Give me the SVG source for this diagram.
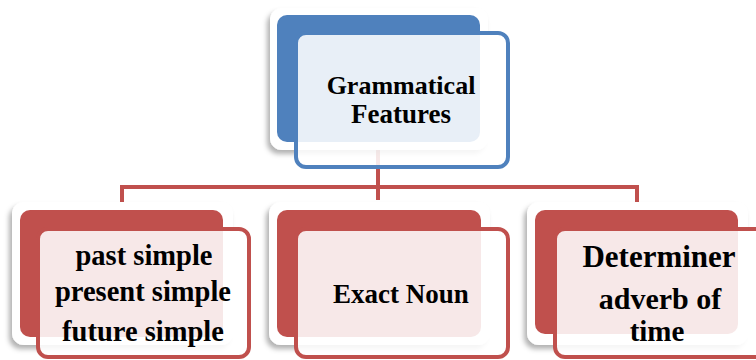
<svg xmlns="http://www.w3.org/2000/svg" width="756" height="360" viewBox="0 0 756 360">
<style>
.frame{fill:#ffffff;filter:url(#sh)}
.blue{fill:#4f81bd}
.red{fill:#c0504d}
.fb{fill:#ffffff;fill-opacity:0.87;stroke:#4f81bd;stroke-width:4}
.fr{fill:#ffffff;fill-opacity:0.87;stroke:#c0504d;stroke-width:4}
.t{font-family:"Liberation Serif","Times New Roman",serif;font-weight:bold;fill:#000;text-anchor:middle}
.conn{fill:none;stroke:#c0504d;stroke-width:4}
</style>
<defs>
<filter id="sh" x="-10%" y="-10%" width="120%" height="125%">
<feDropShadow dx="-3" dy="4" stdDeviation="2.5" flood-color="#000" flood-opacity="0.3"/>
</filter>
</defs>
<rect width="756" height="360" fill="#ffffff"/>
<g id="connectors">
<path class="conn" d="M378,150 V187"/>
<path class="conn" d="M122,203 V187 H637 V203"/>
<path class="conn" d="M378,187 V200"/>
</g>
<g id="node-top">
<rect class="frame" x="270" y="8" width="218" height="142" rx="12"/>
<rect class="blue" x="277" y="15" width="203" height="127" rx="10"/>
<rect class="fb" x="296" y="33" width="212" height="134" rx="10"/>
<text class="t" x="401" y="94" font-size="26">Grammatical</text>
<text class="t" x="401" y="123" font-size="27">Features</text>
</g>
<g id="node-left">
<rect class="frame" x="12" y="202" width="221" height="143" rx="12"/>
<rect class="red" x="20" y="210" width="203" height="127" rx="10"/>
<rect class="fr" x="38" y="229" width="211" height="128" rx="10"/>
<text class="t" x="144" y="265" font-size="28.5">past simple</text>
<text class="t" x="143" y="301" font-size="28.5">present simple</text>
<text class="t" x="143" y="341" font-size="28.5">future simple</text>
</g>
<g id="node-middle">
<rect class="frame" x="269" y="202" width="221" height="143" rx="12"/>
<rect class="red" x="277" y="210" width="204" height="127" rx="10"/>
<rect class="fr" x="296" y="229" width="212" height="128" rx="10"/>
<text class="t" x="401" y="303" font-size="27">Exact Noun</text>
</g>
<g id="node-right">
<rect class="frame" x="527" y="202" width="221" height="143" rx="12"/>
<rect class="red" x="535" y="210" width="203" height="124" rx="10"/>
<rect class="fr" x="555" y="229" width="212" height="128" rx="10"/>
<text class="t" x="659" y="267" font-size="31">Determiner</text>
<text class="t" x="660" y="309" font-size="30">adverb of</text>
<text class="t" x="657" y="341" font-size="29">time</text>
</g>
</svg>
